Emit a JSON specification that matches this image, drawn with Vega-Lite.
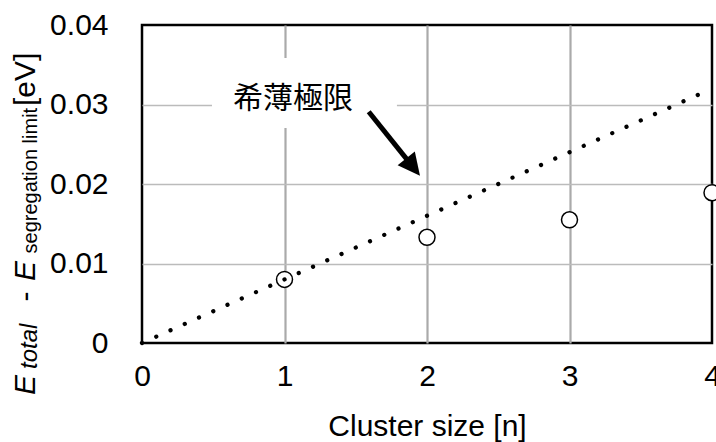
{
  "$schema": "https://vega.github.io/schema/vega-lite/v6.json",
  "width": 570,
  "height": 318,
  "autosize": {"type": "none"},
  "padding": {"left": 142, "top": 25, "right": 4, "bottom": 99},
  "background": "white",
  "config": {
    "view": {"stroke": "black", "strokeWidth": 2.5},
    "font": "Liberation Sans"
  },
  "datasets": {
    "points": [
      {"n": 1, "e": 0.008},
      {"n": 2, "e": 0.0133},
      {"n": 3, "e": 0.0155},
      {"n": 4, "e": 0.0189}
    ],
    "dilute": [
      {"n": 0, "e": 0},
      {"n": 3.95, "e": 0.0316}
    ],
    "one": [{"k": 1}]
  },
  "layer": [
    {
      "data": {"name": "one"},
      "mark": {"type": "rect", "fill": "white", "stroke": null},
      "encoding": {
        "x": {"datum": 0.491, "type": "quantitative",
          "scale": {"domain": [0, 4], "nice": false, "zero": false},
          "axis": {
            "values": [0, 1, 2, 3, 4],
            "format": "d",
            "title": "Cluster size [n]",
            "domain": false,
            "ticks": false,
            "labelPadding": 18,
            "labelFontSize": 30,
            "labelColor": "black",
            "labelFont": "Liberation Sans",
            "labelFlush": false,
            "labelOverlap": false,
            "titleFont": "Liberation Sans",
            "titleFontSize": 30,
            "titleFontWeight": "normal",
            "titleColor": "black",
            "titlePadding": 20,
            "grid": true,
            "gridColor": {"condition": {"test": "datum.value < 0.01 || datum.value > 3.99", "value": "transparent"}, "value": "#aaaaaa"},
            "gridWidth": 2.2
          }
        },
        "x2": {"datum": 1.789},
        "y": {"datum": 0.02704, "type": "quantitative",
          "scale": {"domain": [0, 0.04], "nice": false, "zero": false},
          "axis": {
            "values": [0, 0.005, 0.01, 0.015, 0.02, 0.025, 0.03, 0.035, 0.04],
            "labelExpr": "round(datum.value * 1000) % 10 == 0 ? (datum.value < 0.001 ? '0' : format(datum.value, '.2f')) : ''",
            "title": null,
            "domain": false,
            "ticks": false,
            "labelPadding": 34,
            "labelFontSize": 30,
            "labelColor": "black",
            "labelFont": "Liberation Sans",
            "labelFlush": false,
            "labelOverlap": false,
            "grid": true,
            "gridColor": {"condition": {"test": "datum.value < 0.001 || datum.value > 0.039", "value": "transparent"}, "value": "#bbbbbb"},
            "gridWidth": 1.6
          }
        },
        "y2": {"datum": 0.03585}
      }
    },
    {
      "data": {"name": "points"},
      "mark": {"type": "circle", "fill": "white", "stroke": "black", "strokeWidth": 1.5, "opacity": 1, "size": 256, "clip": false},
      "encoding": {
        "x": {"field": "n", "type": "quantitative", "scale": {"domain": [0, 4], "nice": false, "zero": false}},
        "y": {"field": "e", "type": "quantitative", "scale": {"domain": [0, 0.04], "nice": false, "zero": false}}
      }
    },
    {
      "data": {"name": "dilute"},
      "mark": {"type": "line", "stroke": "black", "strokeWidth": 4.3, "strokeCap": "round", "strokeDash": [0.001, 15.604]},
      "encoding": {
        "x": {"field": "n", "type": "quantitative", "scale": {"domain": [0, 4], "nice": false, "zero": false}},
        "y": {"field": "e", "type": "quantitative", "scale": {"domain": [0, 0.04], "nice": false, "zero": false}}
      }
    },
    {
      "data": {"name": "one"},
      "mark": {"type": "rule", "stroke": "black", "strokeWidth": 5, "strokeCap": "butt"},
      "encoding": {
        "x": {"datum": 1.591, "type": "quantitative"},
        "y": {"datum": 0.02909, "type": "quantitative"},
        "x2": {"datum": 1.9025},
        "y2": {"datum": 0.02213}
      }
    },
    {
      "data": {"name": "one"},
      "mark": {"type": "point", "shape": "M0,-1L1,1L-1,1Z", "filled": true, "fill": "black", "stroke": null, "opacity": 1, "size": 484, "angle": 141.3},
      "encoding": {
        "x": {"datum": 1.9025, "type": "quantitative"},
        "y": {"datum": 0.02213, "type": "quantitative"}
      }
    },
    {
      "data": {"name": "one"},
      "mark": {"type": "text", "font": "Noto Sans CJK JP", "fontSize": 30, "align": "center", "baseline": "middle", "color": "black"},
      "encoding": {
        "x": {"datum": 1.06, "type": "quantitative"},
        "y": {"datum": 0.0307, "type": "quantitative"},
        "text": {"value": "希薄極限"}
      }
    },
    {
      "data": {"name": "one"},
      "mark": {"type": "text", "font": "Liberation Sans", "fontStyle": "italic", "fontSize": 30, "align": "left", "baseline": "alphabetic", "angle": 270, "color": "black", "clip": false},
      "encoding": {
        "x": {"datum": -0.751, "type": "quantitative"},
        "y": {"datum": -0.00654, "type": "quantitative"},
        "text": {"value": "E"}
      }
    },
    {
      "data": {"name": "one"},
      "mark": {"type": "text", "font": "Liberation Sans", "fontStyle": "italic", "fontSize": 24, "align": "left", "baseline": "alphabetic", "angle": 270, "color": "black", "clip": false},
      "encoding": {
        "x": {"datum": -0.737, "type": "quantitative"},
        "y": {"datum": -0.00327, "type": "quantitative"},
        "text": {"value": "total"}
      }
    },
    {
      "data": {"name": "one"},
      "mark": {"type": "text", "font": "Liberation Sans", "fontSize": 30, "align": "left", "baseline": "alphabetic", "angle": 270, "color": "black", "clip": false},
      "encoding": {
        "x": {"datum": -0.751, "type": "quantitative"},
        "y": {"datum": 0.00522, "type": "quantitative"},
        "text": {"value": "-"}
      }
    },
    {
      "data": {"name": "one"},
      "mark": {"type": "text", "font": "Liberation Sans", "fontStyle": "italic", "fontSize": 30, "align": "left", "baseline": "alphabetic", "angle": 270, "color": "black", "clip": false},
      "encoding": {
        "x": {"datum": -0.751, "type": "quantitative"},
        "y": {"datum": 0.0078, "type": "quantitative"},
        "text": {"value": "E"}
      }
    },
    {
      "data": {"name": "one"},
      "mark": {"type": "text", "font": "Liberation Sans", "fontSize": 20, "align": "left", "baseline": "alphabetic", "angle": 270, "color": "black", "clip": false},
      "encoding": {
        "x": {"datum": -0.737, "type": "quantitative"},
        "y": {"datum": 0.01126, "type": "quantitative"},
        "text": {"value": "segregation limit"}
      }
    },
    {
      "data": {"name": "one"},
      "mark": {"type": "text", "font": "Liberation Sans", "fontSize": 30, "align": "left", "baseline": "alphabetic", "angle": 270, "color": "black", "clip": false},
      "encoding": {
        "x": {"datum": -0.751, "type": "quantitative"},
        "y": {"datum": 0.02981, "type": "quantitative"},
        "text": {"value": "[eV]"}
      }
    }
  ]
}
